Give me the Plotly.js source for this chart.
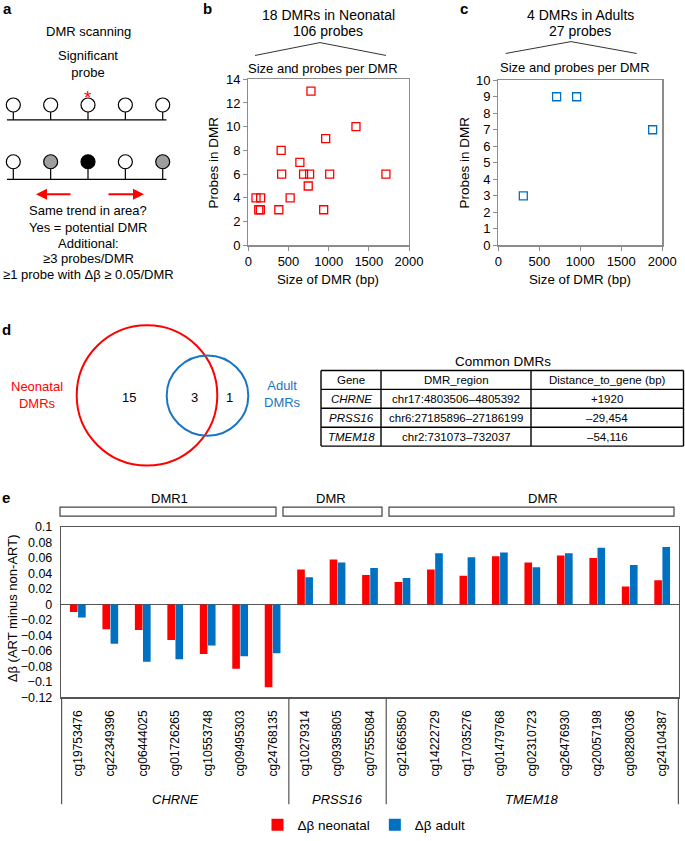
<!DOCTYPE html>
<html>
<head>
<meta charset="utf-8">
<script src="https://cdn.plot.ly/plotly-3.0.1.min.js"></script>
<style>
  body { margin: 0; background: #fff; }
  #fig { width: 685px; height: 841px; }
</style>
</head>
<body>
<div id="fig"></div>
<script>
// ---- data ----
// b: DMRs in neonatal (size bp, probes)
const neoSize   = [780, 1340, 963, 409, 642, 415, 688, 763, 1013, 1713, 746, 96, 154, 521, 130, 150, 380, 938];
const neoProbes = [13, 10, 9, 8, 7, 6, 6, 6, 6, 6, 5, 4, 4, 4, 3, 3, 3, 3];

// c: DMRs in adults
const adultSize   = [711, 955, 1882, 305];
const adultProbes = [9, 9, 7, 3];

// d: venn counts and common DMR table
const vennCounts = [15, 3, 1];
const tableHeader = ['Gene', 'DMR_region', 'Distance_to_gene (bp)'];
const tableGenes = ['CHRNE', 'PRSS16', 'TMEM18'];
const tableRegions = ['chr17:4803506–4805392', 'chr6:27185896–27186199', 'chr2:731073–732037'];
const tableDistance = ['+1920', '–29,454', '–54,116'];

// e: delta beta per probe
const probeIds = ['cg19753476', 'cg22349396', 'cg06444025', 'cg01726265', 'cg10553748', 'cg09495303', 'cg24768135',
                  'cg10279314', 'cg09395805', 'cg07555084',
                  'cg21665850', 'cg14222729', 'cg17035276', 'cg01479768', 'cg02310723', 'cg26476930', 'cg20057198', 'cg08280036', 'cg24104387'];
const deltaNeonatal = [-0.010, -0.032, -0.033, -0.046, -0.064, -0.083, -0.107,
                       0.045, 0.058, 0.038,
                       0.029, 0.045, 0.037, 0.062, 0.054, 0.063, 0.060, 0.023, 0.031];
const deltaAdult = [-0.017, -0.051, -0.074, -0.071, -0.053, -0.067, -0.063,
                    0.035, 0.054, 0.047,
                    0.034, 0.066, 0.061, 0.067, 0.048, 0.066, 0.073, 0.051, 0.074];
const genes = ['CHRNE', 'PRSS16', 'TMEM18'];
const geneFirst = [0, 7, 10];
const geneLast = [6, 9, 18];

// a: schematic probe states
const probeSlots = [0, 1, 2, 3, 4];
const rowFills = [
    ['#fff', '#fff', '#fff', '#fff', '#fff'],
    ['#fff', '#9e9e9e', '#000', '#fff', '#9e9e9e']
];

// ---- helpers ----
const W = 685, H = 841;
const px = x => x / W;
const py = y => 1 - y / H;
const RED = '#ff0000', BLUE = '#0070c0', VBLUE = '#1a75c2';
const FONT = 'Liberation Sans, Arial, Helvetica, sans-serif';

function txt(text, x, y, size, extra){
    return Object.assign({
        text: text, x: px(x), y: py(y), xref: 'paper', yref: 'paper',
        showarrow: false, xanchor: 'center', yanchor: 'middle',
        font: {size: size, color: '#000', family: FONT}
    }, extra || {});
}

// ---- traces ----
let traces = [];

traces.push({
    type: 'scatter', mode: 'markers', x: neoSize, y: neoProbes, xaxis: 'x', yaxis: 'y',
    marker: {symbol: 'square-open', size: 8, color: RED, line: {width: 1.3, color: RED}},
    showlegend: false, hoverinfo: 'skip'
});
traces.push({
    type: 'scatter', mode: 'markers', x: adultSize, y: adultProbes, xaxis: 'x2', yaxis: 'y2',
    marker: {symbol: 'square-open', size: 8, color: BLUE, line: {width: 1.3, color: BLUE}},
    showlegend: false, hoverinfo: 'skip'
});

traces.push({
    type: 'bar', name: 'Δβ neonatal', x: probeIds, y: deltaNeonatal, xaxis: 'x3', yaxis: 'y3',
    marker: {color: RED}
});
traces.push({
    type: 'bar', name: 'Δβ adult', x: probeIds, y: deltaAdult, xaxis: 'x3', yaxis: 'y3',
    marker: {color: BLUE}
});

// schematic lollipops (y axis of x4/y4 is in pixels, top down)
const rowY = [106, 163.3];
const baseY = [121, 181];
rowFills.forEach(function(fills, r){
    let sx = [], sy = [];
    probeSlots.forEach(function(p){
        sx.push(p, p, null);
        sy.push(rowY[r], baseY[r], null);
    });
    traces.push({
        type: 'scatter', mode: 'lines', x: sx, y: sy, xaxis: 'x4', yaxis: 'y4',
        line: {color: '#000', width: 1.2}, showlegend: false, hoverinfo: 'skip'
    });
    traces.push({
        type: 'scatter', mode: 'markers', x: probeSlots, y: probeSlots.map(() => rowY[r]),
        xaxis: 'x4', yaxis: 'y4',
        marker: {symbol: 'circle', size: 14, color: fills, line: {width: 1.2, color: '#000'}},
        showlegend: false, hoverinfo: 'skip'
    });
});

// ---- shapes ----
let shapes = [];
// baselines of the schematic
baseY.forEach(function(b){
    shapes.push({type: 'line', xref: 'x4', yref: 'y4', x0: -0.17, x1: 4.1, y0: b, y1: b,
                 line: {color: '#000', width: 1.2}});
});
// title brackets b and c
shapes.push({type: 'path', xref: 'paper', yref: 'paper',
    path: 'M' + px(255) + ',' + py(56) + ' L' + px(320) + ',' + py(43) + ' L' + px(386) + ',' + py(56),
    line: {color: '#333', width: 1}});
shapes.push({type: 'path', xref: 'paper', yref: 'paper',
    path: 'M' + px(505.7) + ',' + py(54) + ' L' + px(571) + ',' + py(42) + ' L' + px(636.7) + ',' + py(54),
    line: {color: '#333', width: 1}});
// venn circles
shapes.push({type: 'circle', xref: 'paper', yref: 'paper',
    x0: px(76.7), x1: px(217.3), y0: py(470), y1: py(328.3), line: {color: RED, width: 2}});
shapes.push({type: 'circle', xref: 'paper', yref: 'paper',
    x0: px(166.7), x1: px(248.3), y0: py(440), y1: py(359), line: {color: VBLUE, width: 2}});
// DMR brackets above panel e
[[60, 276], [283, 382], [389, 674]].forEach(function(b){
    shapes.push({type: 'rect', xref: 'paper', yref: 'paper',
        x0: px(b[0]), x1: px(b[1]), y0: py(521), y1: py(512),
        line: {color: '#444', width: 1.2}});
});
// gene separators under panel e
[-0.5].concat(geneLast.map(g => g + 0.5)).forEach(function(xb){
    shapes.push({type: 'line', xref: 'x3', yref: 'paper', x0: xb, x1: xb, y0: py(704), y1: py(812),
        line: {color: '#555', width: 1.2}});
});

// ---- annotations ----
let ann = [];
ann.push(txt('<b>a</b>', 7, 9, 15));
ann.push(txt('<b>b</b>', 207, 9, 15));
ann.push(txt('<b>c</b>', 464, 9, 15));
ann.push(txt('<b>d</b>', 6, 333, 15));
ann.push(txt('<b>e</b>', 6, 502, 15));

// panel a text
ann.push(txt('DMR scanning', 88, 32, 13));
ann.push(txt('Significant<br>probe', 88, 65, 13));
ann.push({text: '*', x: 2, y: 98, xref: 'x4', yref: 'y4', showarrow: false,
          font: {size: 19, color: RED, family: FONT}});
ann.push({text: '', x: px(36), y: py(196), xref: 'paper', yref: 'paper', ax: 36, ay: 0,
          showarrow: true, arrowhead: 2, arrowsize: 1.1, arrowwidth: 2, arrowcolor: RED});
ann.push({text: '', x: px(144), y: py(196), xref: 'paper', yref: 'paper', ax: -37, ay: 0,
          showarrow: true, arrowhead: 2, arrowsize: 1.1, arrowwidth: 2, arrowcolor: RED});
ann.push(txt('Same trend in area?', 88, 213, 13));
ann.push(txt('Yes = potential DMR', 88, 229.5, 13));
ann.push(txt('Additional:', 88, 245.5, 13));
ann.push(txt('≥3 probes/DMR', 88, 261, 13));
ann.push(txt('≥1 probe with Δβ ≥ 0.05/DMR', 88, 277, 13));

// panel b/c titles
ann.push(txt('18 DMRs in Neonatal', 328, 15.5, 14));
ann.push(txt('106 probes', 328, 31, 14));
ann.push(txt('Size and probes per DMR', 323, 69, 13));
ann.push(txt('Probes in DMR', 213, 164, 13.5, {textangle: -90}));
ann.push(txt('Size of DMR (bp)', 328, 282, 13.3));
ann.push(txt('4 DMRs in Adults', 580, 15.5, 14));
ann.push(txt('27 probes', 580, 31, 14));
ann.push(txt('Size and probes per DMR', 575, 68, 13));
ann.push(txt('Probes in DMR', 464, 164, 13.5, {textangle: -90}));
ann.push(txt('Size of DMR (bp)', 580, 282, 13.3));

// venn labels
ann.push(txt(String(vennCounts[0]), 129, 401, 13));
ann.push(txt(String(vennCounts[1]), 194, 401, 13));
ann.push(txt(String(vennCounts[2]), 230, 401, 13));
ann.push(txt('Neonatal<br>DMRs', 37, 399, 13, {font: {size: 13, color: RED, family: FONT}}));
ann.push(txt('Adult<br>DMRs', 282, 397.5, 13, {font: {size: 13, color: VBLUE, family: FONT}}));

// common DMR table: grid from column widths and row height
ann.push(txt('Common DMRs', 503, 365, 13.5));
const tabLeft = 321, tabTop = 374, rowH = 19.1;
const colW = [60, 150, 152.5];
const colEdges = [tabLeft];
colW.forEach(w => colEdges.push(colEdges[colEdges.length - 1] + w));
const tableRows = [tableHeader].concat(tableGenes.map((g, i) => ['<i>' + g + '</i>', tableRegions[i], tableDistance[i]]));
const tabBottom = tabTop + rowH * tableRows.length;
colEdges.forEach(function(xe){
    shapes.push({type: 'line', xref: 'paper', yref: 'paper', x0: px(xe), x1: px(xe), y0: py(tabTop), y1: py(tabBottom),
                 line: {color: '#000', width: 1.4}});
});
for (let r = 0; r <= tableRows.length; r++) {
    shapes.push({type: 'line', xref: 'paper', yref: 'paper', x0: px(tabLeft), x1: px(colEdges[3]),
                 y0: py(tabTop + r * rowH), y1: py(tabTop + r * rowH), line: {color: '#000', width: 1.4}});
}
tableRows.forEach(function(row, r){
    row.forEach(function(cell, c){
        ann.push(txt(cell, (colEdges[c] + colEdges[c + 1]) / 2, tabTop + (r + 0.5) * rowH, 11.5));
    });
});

// panel e
ann.push(txt('DMR1', 169, 503, 13));
ann.push(txt('DMR', 331, 503, 13));
ann.push(txt('DMR', 543, 503, 13));
ann.push(txt('Δβ (ART minus non-ART)', 12, 614, 13, {textangle: -90}));
genes.forEach(function(g, i){
    ann.push({text: '<i>' + g + '</i>', x: (geneFirst[i] + geneLast[i]) / 2, y: py(807),
              xref: 'x3', yref: 'paper', showarrow: false, yanchor: 'middle',
              font: {size: 13, color: '#000', family: FONT}});
});

// ---- axes ----
const scatterAxis = {
    showline: true, mirror: true, linecolor: '#8c8c8c', linewidth: 1.3,
    ticks: 'outside', ticklen: 4, tickcolor: '#8c8c8c', tickwidth: 1,
    showgrid: false, zeroline: false, tickfont: {size: 13, color: '#000', family: FONT},
    fixedrange: true
};

let layout = {
    width: W, height: H,
    margin: {l: 0, r: 0, t: 0, b: 0},
    paper_bgcolor: '#fff', plot_bgcolor: 'rgba(0,0,0,0)',
    font: {family: FONT, color: '#000'},
    showlegend: true,
    legend: {orientation: 'h', x: px(364), xanchor: 'center', y: py(833), yanchor: 'middle',
             font: {size: 13.5, color: '#000', family: FONT}, traceorder: 'normal'},
    bargap: 0.5, bargroupgap: 0.06, barmode: 'group',
    xaxis: Object.assign({}, scatterAxis, {domain: [px(248.3), px(409)], range: [0, 2000], dtick: 500, anchor: 'y'}),
    yaxis: Object.assign({}, scatterAxis, {domain: [py(247.7), py(80)], range: [0, 14], dtick: 2, anchor: 'x'}),
    xaxis2: Object.assign({}, scatterAxis, {domain: [px(498.3), px(662.3)], range: [0, 2000], dtick: 500, anchor: 'y2'}),
    yaxis2: Object.assign({}, scatterAxis, {domain: [py(247.7), py(81)], range: [0, 10], dtick: 1, anchor: 'x2'}),
    xaxis3: {
        domain: [px(61), px(679)], anchor: 'y3', type: 'category',
        showline: true, mirror: true, linecolor: '#555', linewidth: 1.2,
        ticks: '', tickangle: -90, ticklabelstandoff: 7,
        tickfont: {size: 12, color: '#000', family: FONT}, showgrid: false, fixedrange: true
    },
    yaxis3: {
        domain: [py(704), py(532)], anchor: 'x3', range: [-0.12, 0.1], dtick: 0.02, tick0: 0,
        showline: true, mirror: true, linecolor: '#555', linewidth: 1.2,
        ticks: '', ticklabelstandoff: 5, showgrid: false,
        zeroline: true, zerolinecolor: '#555', zerolinewidth: 1.2,
        tickfont: {size: 12.5, color: '#000', family: FONT}, fixedrange: true
    },
    xaxis4: {domain: [0, px(175)], range: [-0.356, 4.329], anchor: 'y4', visible: false, fixedrange: true},
    yaxis4: {domain: [py(290), 1], range: [290, 0], anchor: 'x4', visible: false, fixedrange: true},
    shapes: shapes,
    annotations: ann
};

Plotly.newPlot('fig', traces, layout, {staticPlot: true, displayModeBar: false});
</script>
</body>
</html>
